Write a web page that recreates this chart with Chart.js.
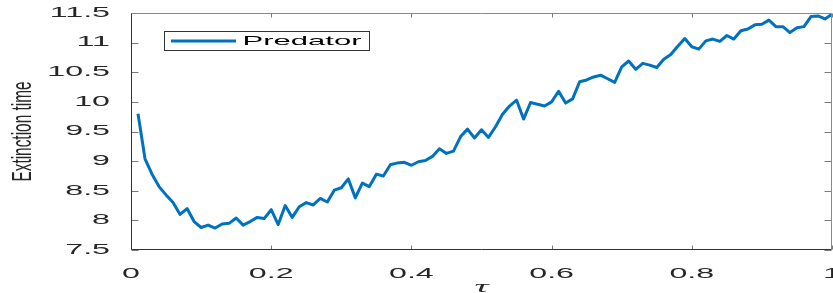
<!DOCTYPE html>
<html>
<head>
<meta charset="utf-8">
<script src="https://cdn.jsdelivr.net/npm/chart.js@4.4.0/dist/chart.umd.min.js"></script>
<style>
  html, body { margin: 0; padding: 0; background: #fff; overflow: hidden; }
  #wrap { width: 833px; height: 293px; }
</style>
</head>
<body>
<div id="wrap"><canvas id="myChart"></canvas></div>
<script>
// tau values (x axis)
const tau = [
  0.01, 0.02, 0.03, 0.04, 0.05, 0.06, 0.07, 0.08, 0.09, 0.10,
  0.11, 0.12, 0.13, 0.14, 0.15, 0.16, 0.17, 0.18, 0.19, 0.20,
  0.21, 0.22, 0.23, 0.24, 0.25, 0.26, 0.27, 0.28, 0.29, 0.30,
  0.31, 0.32, 0.33, 0.34, 0.35, 0.36, 0.37, 0.38, 0.39, 0.40,
  0.41, 0.42, 0.43, 0.44, 0.45, 0.46, 0.47, 0.48, 0.49, 0.50,
  0.51, 0.52, 0.53, 0.54, 0.55, 0.56, 0.57, 0.58, 0.59, 0.60,
  0.61, 0.62, 0.63, 0.64, 0.65, 0.66, 0.67, 0.68, 0.69, 0.70,
  0.71, 0.72, 0.73, 0.74, 0.75, 0.76, 0.77, 0.78, 0.79, 0.80,
  0.81, 0.82, 0.83, 0.84, 0.85, 0.86, 0.87, 0.88, 0.89, 0.90,
  0.91, 0.92, 0.93, 0.94, 0.95, 0.96, 0.97, 0.98, 0.99, 1.00
];

// predator extinction time
const predator = [
  9.80, 9.04, 8.78, 8.57, 8.43, 8.30, 8.10, 8.20, 7.98, 7.88,
  7.92, 7.87, 7.94, 7.95, 8.04, 7.92, 7.98, 8.05, 8.03, 8.18,
  7.93, 8.25, 8.05, 8.23, 8.30, 8.26, 8.37, 8.31, 8.51, 8.55,
  8.70, 8.38, 8.63, 8.57, 8.78, 8.75, 8.94, 8.97, 8.98, 8.93,
  8.99, 9.01, 9.08, 9.21, 9.13, 9.17, 9.41, 9.54, 9.39, 9.53,
  9.40, 9.58, 9.79, 9.93, 10.03, 9.71, 9.99, 9.96, 9.93, 10.00,
  10.18, 9.98, 10.05, 10.34, 10.37, 10.42, 10.45, 10.39, 10.33, 10.59,
  10.69, 10.55, 10.65, 10.62, 10.58, 10.72, 10.80, 10.94, 11.07, 10.93,
  10.89, 11.03, 11.06, 11.02, 11.12, 11.06, 11.20, 11.23, 11.30, 11.31,
  11.38, 11.27, 11.27, 11.17, 11.25, 11.27, 11.44, 11.45, 11.40, 11.48
];

const xTicks = [0, 0.2, 0.4, 0.6, 0.8, 1];
const yTicks = [7.5, 8, 8.5, 9, 9.5, 10, 10.5, 11, 11.5];

const lineColor = "rgb(0, 114, 189)";
const textColor = "#262626";

// the reference figure is stretched sideways, so its text is too
const textStretch = {
  id: "textStretch",
  beforeDraw(chart) {
    const ctx = chart.ctx;
    const orig = ctx.fillText;
    chart.$origFillText = orig;
    ctx.fillText = function (text, x, y) {
      const m = ctx.getTransform();
      const sx = Math.abs(m.b) > 0.01 ? 1.85 : 2.3;
      const p = m.transformPoint(new DOMPoint(x, y));
      ctx.save();
      ctx.setTransform(new DOMMatrix().translate(p.x, p.y).scale(sx, 1).translate(-p.x, -p.y).multiply(m));
      orig.call(ctx, text, x, y);
      ctx.restore();
    };
  },
  afterDraw(chart) {
    chart.ctx.fillText = chart.$origFillText;
  }
};

// matlab style box with inward ticks
const boxTicks = {
  id: "boxTicks",
  afterDatasetsDraw(chart) {
    const { ctx, chartArea: a, scales } = chart;
    const L = Math.round(a.left) + 0.5, R = Math.round(a.right) - 0.5;
    const T = Math.round(a.top) + 0.5, B = Math.round(a.bottom) - 0.5;
    ctx.save();
    ctx.lineWidth = 1;
    ctx.strokeStyle = "#7a7a7a";
    ctx.beginPath();
    yTicks.forEach(v => {
      const y = Math.round(scales.y.getPixelForValue(v)) + 0.5;
      ctx.moveTo(L, y); ctx.lineTo(L + 7, y);
      ctx.moveTo(R, y); ctx.lineTo(R - 7, y);
    });
    xTicks.forEach(v => {
      const x = Math.round(scales.x.getPixelForValue(v)) + 0.5;
      ctx.moveTo(x, B); ctx.lineTo(x, B - 4);
      ctx.moveTo(x, T); ctx.lineTo(x, T + 4);
    });
    ctx.stroke();
    ctx.strokeStyle = "#8a8a8a";
    ctx.beginPath();
    ctx.moveTo(L, T); ctx.lineTo(R, T); ctx.lineTo(R, B);
    ctx.stroke();
    ctx.strokeStyle = "#333";
    ctx.beginPath();
    ctx.moveTo(L, T); ctx.lineTo(L, B); ctx.lineTo(R, B);
    ctx.stroke();

    // legend box
    ctx.fillStyle = "#fff";
    ctx.fillRect(164.5, 31.5, 205, 19);
    ctx.strokeStyle = "#333";
    ctx.strokeRect(164.5, 31.5, 205, 19);
    ctx.strokeStyle = lineColor;
    ctx.lineWidth = 3;
    ctx.beginPath();
    ctx.moveTo(171, 41); ctx.lineTo(236, 41);
    ctx.stroke();
    ctx.fillStyle = "#000";
    ctx.font = "13.5px 'Liberation Sans', Arial, sans-serif";
    ctx.textAlign = "left";
    ctx.textBaseline = "middle";
    ctx.fillText(chart.data.datasets[0].label, 242.5, 41.5);
    ctx.restore();
  }
};

const data = {
  datasets: [
    {
      label: "Predator",
      data: tau.map((t, i) => ({ x: t, y: predator[i] })),
      borderColor: lineColor,
      backgroundColor: lineColor,
      borderWidth: 3,
      borderJoinStyle: "round",
      pointRadius: 0,
      tension: 0,
    },
  ],
};

const tickFont = { family: "'Liberation Sans', Arial, sans-serif", size: 14 };
const plainLabel = (v) => String(v);

const config = {
  type: "line",
  data: data,
  options: {
    responsive: true,
    maintainAspectRatio: false,
    animation: false,
    layout: { padding: { top: 13, right: 1, left: 0, bottom: 0 } },
    plugins: {
      legend: { display: false },
      tooltip: { enabled: false },
    },
    scales: {
      x: {
        type: "linear",
        min: 0,
        max: 1,
        afterBuildTicks: (s) => { s.ticks = xTicks.map(v => ({ value: v })); },
        afterFit: (s) => { s.height = 43; s.paddingLeft = 0; s.paddingRight = 0; },
        grid: { display: false },
        border: { display: false },
        ticks: { font: tickFont, color: textColor, padding: 8, maxRotation: 0, autoSkip: false, callback: plainLabel },
        title: {
          display: true,
          text: "τ",
          color: textColor,
          font: { family: "'Liberation Serif', 'DejaVu Serif', serif", size: 17, style: "italic", lineHeight: 0.7 },
          padding: { top: 0, bottom: 0 },
        },
      },
      y: {
        min: 7.5,
        max: 11.5,
        afterBuildTicks: (s) => { s.ticks = yTicks.map(v => ({ value: v })); },
        afterFit: (s) => { s.width = 131; s.paddingTop = 0; s.paddingBottom = 0; },
        grid: { display: false },
        border: { display: false },
        ticks: { font: tickFont, color: textColor, padding: 13, callback: plainLabel },
        title: {
          display: true,
          text: "Extinction time",
          color: textColor,
          font: { family: "'Liberation Sans', Arial, sans-serif", size: 15.4 },
          padding: { top: 14.3, bottom: 0 },
        },
      },
    },
  },
  plugins: [textStretch, boxTicks],
};

const myChart = new Chart(document.getElementById("myChart"), config);
</script>
</body>
</html>
